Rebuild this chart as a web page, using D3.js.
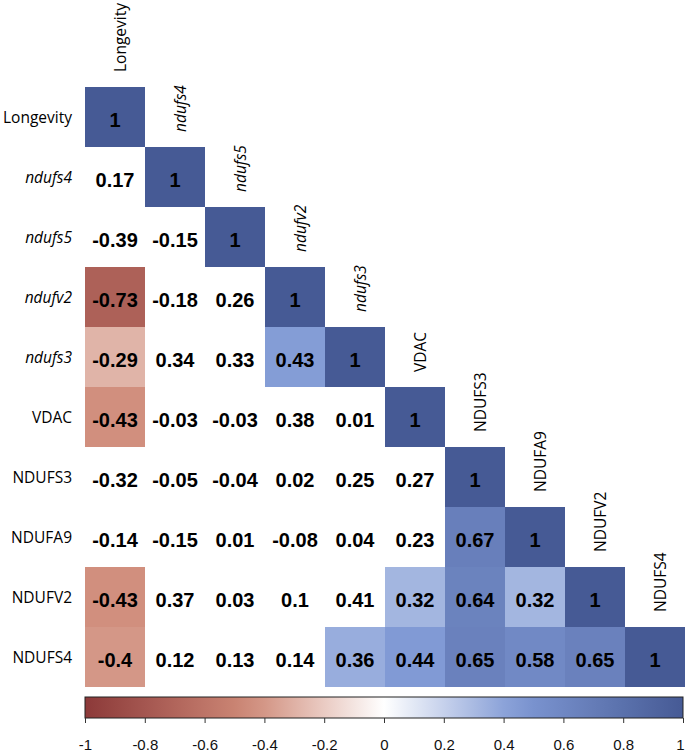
<!DOCTYPE html>
<html><head><meta charset="utf-8">
<script src="https://cdn.jsdelivr.net/npm/d3@7"></script>
<style>body{margin:0;background:#fff;}svg{display:block;}</style>
</head><body>
<svg id="chart" width="685" height="754"></svg>
<script>
const variables = ["Longevity","ndufs4","ndufs5","ndufv2","ndufs3","VDAC","NDUFS3","NDUFA9","NDUFV2","NDUFS4"];
const italicNames = ["ndufs4","ndufs5","ndufv2","ndufs3"];
// lower-triangle correlations, row i has i values (columns 0..i-1); diagonal = 1
const corrRows = [
  [],
  [0.17],
  [-0.39,-0.15],
  [-0.73,-0.18,0.26],
  [-0.29,0.34,0.33,0.43],
  [-0.43,-0.03,-0.03,0.38,0.01],
  [-0.32,-0.05,-0.04,0.02,0.25,0.27],
  [-0.14,-0.15,0.01,-0.08,0.04,0.23,0.67],
  [-0.43,0.37,0.03,0.1,0.41,0.32,0.64,0.32],
  [-0.4,0.12,0.13,0.14,0.36,0.44,0.65,0.58,0.65]
];
// 1 = coloured (significant) cell, 0 = blank cell
const sigRows = [
  [],
  [0],
  [0,0],
  [1,0,0],
  [1,0,0,1],
  [1,0,0,0,0],
  [0,0,0,0,0,0],
  [0,0,0,0,0,0,1],
  [1,0,0,0,0,1,1,1],
  [1,0,0,0,1,1,1,1,1]
];
const legendTicks = [-1,-0.8,-0.6,-0.4,-0.2,0,0.2,0.4,0.6,0.8,1];
const legendTickLabels = ["-1","-0.8","-0.6","-0.4","-0.2","0","0.2","0.4","0.6","0.8","1"];

const svg = d3.select("#chart");
const x = d3.scaleBand().domain(variables).range([85,685]);
const y = d3.scaleBand().domain(variables).range([87,687]);
const color = d3.scaleLinear()
  .domain([-1,-0.45,0,0.45,1])
  .range(["#8C3939","#CF8A78","#FFFFFF","#7E98D4","#465A95"]);

const cells = [];
variables.forEach((rv,i)=>{
  corrRows[i].forEach((v,j)=>cells.push({row:rv,col:variables[j],v:v,sig:sigRows[i][j]}));
  cells.push({row:rv,col:rv,v:1,sig:1});
});

svg.append("g").selectAll("rect").data(cells.filter(d=>d.sig)).join("rect")
  .attr("x",d=>x(d.col)).attr("y",d=>y(d.row))
  .attr("width",x.bandwidth()).attr("height",y.bandwidth())
  .attr("fill",d=>color(d.v));

svg.append("g").selectAll("text").data(cells).join("text")
  .attr("x",d=>x(d.col)+x.bandwidth()/2)
  .attr("y",d=>y(d.row)+y.bandwidth()/2+3)
  .attr("text-anchor","middle").attr("dominant-baseline","central")
  .attr("font-family","Liberation Sans, Arial, sans-serif")
  .attr("font-weight","bold").attr("font-size",20).attr("fill","#000")
  .text(d=>d.v===1?"1":String(d.v));

const labFont = "Open Sans, sans-serif";
svg.append("g").selectAll("text").data(variables).join("text")
  .attr("x",72).attr("y",d=>y(d)+y.bandwidth()/2)
  .attr("text-anchor","end").attr("dominant-baseline","central")
  .attr("font-family",labFont).attr("font-size",15.5)
  .attr("font-style",d=>italicNames.includes(d)?"italic":"normal")
  .text(d=>d);

svg.append("g").selectAll("text").data(variables).join("text")
  .attr("transform",d=>`translate(${x(d)+x.bandwidth()/2+11},${y(d)-15}) rotate(-90)`)
  .attr("text-anchor","start")
  .attr("font-family",labFont).attr("font-size",15.5)
  .attr("font-style",d=>italicNames.includes(d)?"italic":"normal")
  .text(d=>d);

// colour legend
const lx = d3.scaleLinear().domain([-1,1]).range([85,683]);
const grad = svg.append("defs").append("linearGradient").attr("id","lg")
  .attr("x1","0%").attr("x2","100%");
d3.range(0,1.0001,0.05).forEach(t=>{
  grad.append("stop").attr("offset",(t*100)+"%").attr("stop-color",color(-1+2*t));
});
svg.append("rect").attr("x",85).attr("y",697).attr("width",598).attr("height",21)
  .attr("fill","url(#lg)").attr("stroke","#222").attr("stroke-width",1);

const axis = d3.axisBottom(lx).tickValues(legendTicks)
  .tickFormat((d,i)=>legendTickLabels[i]).tickSize(5).tickPadding(16);
const ag = svg.append("g").attr("transform","translate(0,718)").call(axis);
ag.select(".domain").remove();
ag.selectAll("line").attr("stroke","#333");
ag.selectAll("text").attr("font-family","Liberation Sans, Arial, sans-serif")
  .attr("font-size",15).attr("fill","#111")
  .attr("dx",(d,i)=>i===legendTicks.length-1?-3:0);
</script>
</body></html>
